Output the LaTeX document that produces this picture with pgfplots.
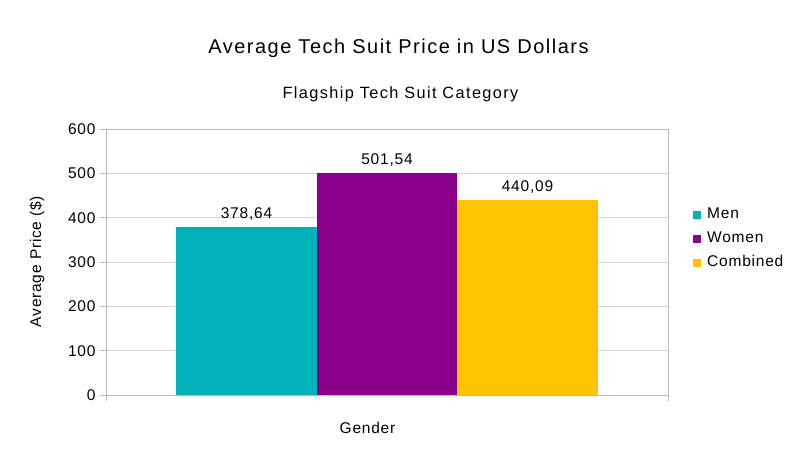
\documentclass[border=0pt]{standalone}
\usepackage{fontspec}
\setmainfont{Liberation Sans}
\usepackage{pgfplots}
\pgfplotsset{compat=1.18}
\definecolor{cMen}{HTML}{00B2BA}
\definecolor{cWomen}{HTML}{8B008B}
\definecolor{cComb}{HTML}{FFC400}
\definecolor{gridc}{HTML}{D4D4D4}
\definecolor{axc}{HTML}{B8B8B8}
\newcommand{\lblfont}{\fontsize{15.5}{18}\selectfont\addfontfeature{LetterSpace=5}}
\begin{document}
\begin{tikzpicture}
\useasboundingbox (0pt,0pt) rectangle (800pt,450pt);
\node[font=\fontsize{20}{24}\selectfont\addfontfeature{LetterSpace=7.5}] at (398.5pt,402pt) {Average Tech Suit Price in US Dollars};
\node[font=\fontsize{16.3}{20}\selectfont\addfontfeature{LetterSpace=8.5}] at (400.5pt,356pt) {Flagship Tech Suit Category};
\begin{axis}[
  at={(106pt,55pt)}, anchor=south west,
  scale only axis, width=562pt, height=266pt,
  xmin=0, xmax=4, ymin=0, ymax=600,
  ytick={0,100,...,600},
  xtick={0,4}, xticklabels={,},
  xtick pos=bottom, ytick pos=left,
  ybar, bar width=1,
  axis line style={axc},
  tick style={axc, thin},
  tick align=outside,
  major tick length=6pt,
  ymajorgrids, grid style={gridc, thin},
  /pgf/number format/assume math mode=true,
  tick label style={font=\lblfont},
  yticklabel style={xshift=-1pt},
  legend style={at={(axis description cs:1,0.5)}, anchor=west, xshift=25pt, yshift=23.5pt,
    draw=none, fill=none, inner sep=0pt, row sep=8pt, font=\lblfont,
    nodes={inner sep=0pt, text height=12pt, text depth=4pt}},
  legend image code/.code={\fill[#1] (0pt,-4pt) rectangle (8pt,4pt);},
  legend cell align=left,
  /tikz/every odd column/.append style={column sep=6pt},
  nodes near coords={\pgfmathprintnumber[use comma,fixed,precision=2,fixed zerofill,assume math mode=true]{\pgfplotspointmeta}},
  nodes near coords style={font=\lblfont, text=black, yshift=3pt},
]
\addplot[fill=cMen, draw=none, bar shift=0pt] coordinates {(1,378.64)};
\addplot[fill=cWomen, draw=none, bar shift=0pt] coordinates {(2,501.54)};
\addplot[fill=cComb, draw=none, bar shift=0pt] coordinates {(3,440.09)};
\legend{Men, Women, Combined}
\end{axis}
\node[font=\lblfont] at (367.5pt,22pt) {Gender};
\node[font=\lblfont, rotate=90] at (37pt,188.5pt) {Average Price (\$)};
\end{tikzpicture}
\end{document}
